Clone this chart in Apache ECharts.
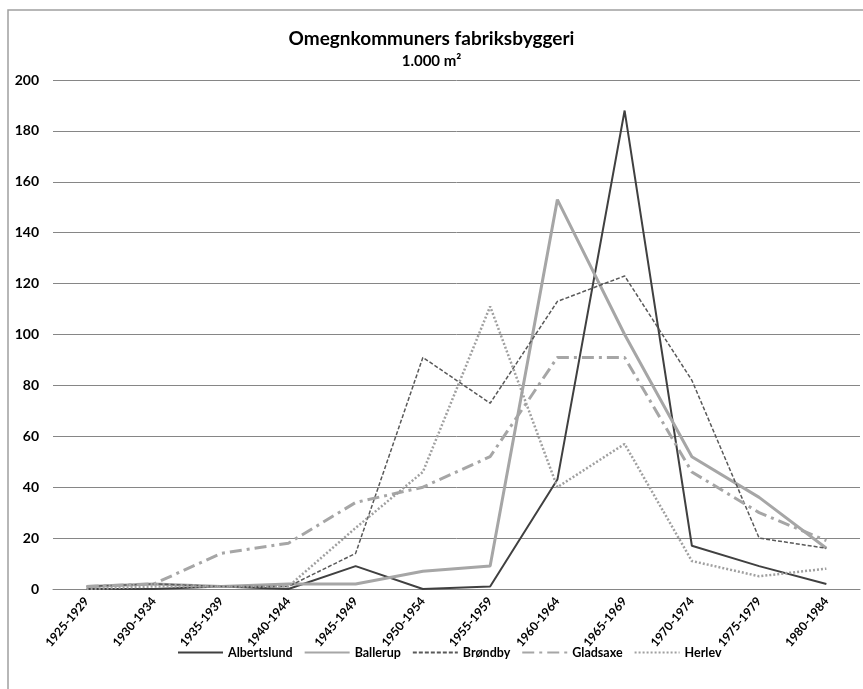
<!DOCTYPE html>
<html>
<head>
    <meta charset="utf-8">
    <title>Omegnkommuners fabriksbyggeri</title>
    <script src="https://cdn.jsdelivr.net/npm/echarts@6/dist/echarts.min.js"></script>
    <style>
        html, body { margin: 0; padding: 0; background: #fff; }
        #main { width: 863px; height: 689px; }
    </style>
</head>
<body>
<div id="main"></div>
<script>
var periods = ['1925-1929', '1930-1934', '1935-1939', '1940-1944', '1945-1949', '1950-1954',
    '1955-1959', '1960-1964', '1965-1969', '1970-1974', '1975-1979', '1980-1984'];
var albertslund = [0, 0, 1, 0, 9, 0, 1, 43, 188, 17, 9, 2];
var ballerup = [1, 2, 1, 2, 2, 7, 9, 153, 100, 52, 36, 16];
var brondby = [1, 2, 1, 1, 14, 91, 73, 113, 123, 82, 20, 16];
var gladsaxe = [1, 2, 14, 18, 34, 40, 52, 91, 91, 46, 30, 19];
var herlev = [0, 1, 1, 1, 24, 46, 111, 40, 57, 11, 5, 8];

var font = 'Lato, "Liberation Sans", sans-serif';
var chart = echarts.init(document.getElementById('main'));

function line(name, data, color, width, dash) {
    return {
        name: name,
        type: 'line',
        symbol: 'none',
        data: data,
        lineStyle: { color: color, width: width, type: dash },
        itemStyle: { color: color }
    };
}

option = {
    animation: false,
    backgroundColor: '#fff',
    title: {
        text: 'Omegnkommuners fabriksbyggeri',
        subtext: '1.000 m²',
        left: 'center',
        top: 24,
        itemGap: 6,
        textStyle: { fontFamily: font, fontSize: 19, fontWeight: 'bold', color: '#000' },
        subtextStyle: { fontFamily: font, fontSize: 15, fontWeight: 'bold', color: '#000' }
    },
    graphic: [{
        type: 'polyline',
        shape: { points: [[8, 700], [8, 10], [870, 10]] },
        style: { stroke: '#a0a0a0', lineWidth: 1.5, fill: null }
    }],
    grid: { left: 53, right: 3, top: 80, bottom: 100, outerBoundsMode: 'none' },
    legend: {
        bottom: 25,
        left: 172,
        itemWidth: 45,
        itemHeight: 12,
        itemGap: 11,
        itemStyle: { opacity: 0 },
        textStyle: { fontFamily: font, fontSize: 12.5, fontWeight: 'bold', color: '#000' },
        data: ['Albertslund', 'Ballerup', 'Brøndby', 'Gladsaxe', 'Herlev']
    },
    xAxis: {
        type: 'category',
        data: periods,
        boundaryGap: true,
        axisLine: { show: true, lineStyle: { color: '#868686' } },
        axisTick: { show: false },
        axisLabel: {
            interval: 0,
            rotate: 50,
            margin: 10,
            fontFamily: font,
            fontSize: 12,
            fontWeight: 'bold',
            color: '#000'
        }
    },
    yAxis: {
        type: 'value',
        min: 0,
        max: 200,
        interval: 20,
        axisLine: { show: false },
        axisTick: { show: false },
        axisLabel: { margin: 14, fontFamily: font, fontSize: 14, fontWeight: 'bold', color: '#000' },
        splitLine: { lineStyle: { color: '#868686', width: 1 } }
    },
    series: [
        line('Albertslund', albertslund, '#404040', 2, 'solid'),
        line('Ballerup', ballerup, '#a6a6a6', 3, 'solid'),
        line('Brøndby', brondby, '#595959', 1.5, [4, 2]),
        line('Gladsaxe', gladsaxe, '#a6a6a6', 3, [12, 5, 3, 5]),
        line('Herlev', herlev, '#a0a0a0', 2.5, [2, 2])
    ]
};
chart.setOption(option);
</script>
</body>
</html>
